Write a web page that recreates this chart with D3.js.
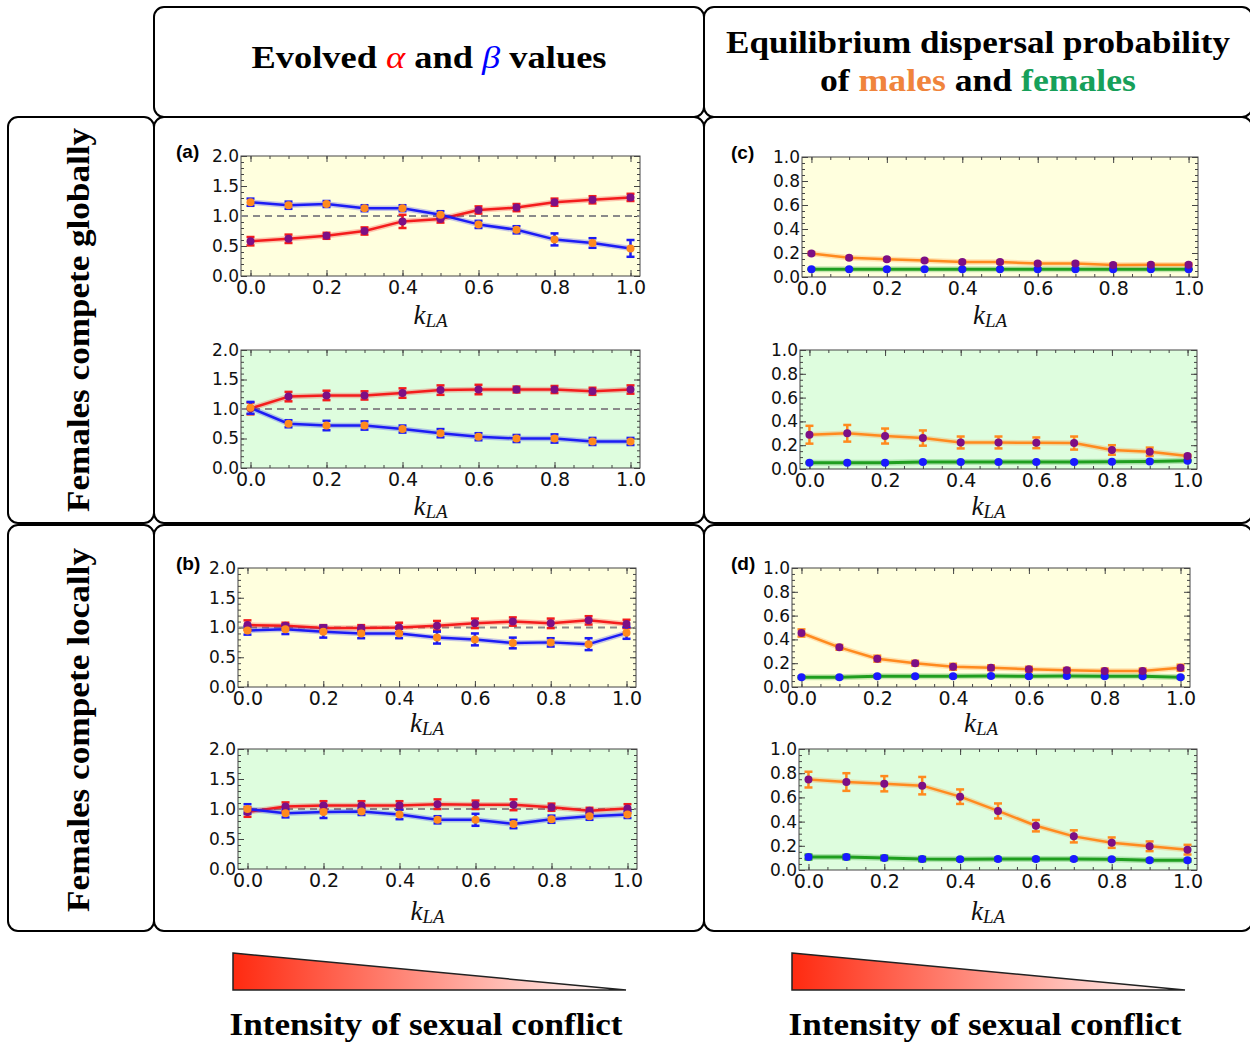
<!DOCTYPE html>
<html>
<head>
<meta charset="utf-8">
<script src="https://cdn.jsdelivr.net/npm/d3@7"></script>
<style>
  body { margin: 0; background: #fff; }
  svg { display: block; }
  .tick text { font-family: "DejaVu Sans", sans-serif; fill: #111; }
  .tick line { stroke: #444; }
</style>
</head>
<body>
<svg id="fig" width="1250" height="1044"></svg>
<script>
// x values (k_LA) and tick labels
var kLA = [0, 0.1, 0.2, 0.3, 0.4, 0.5, 0.6, 0.7, 0.8, 0.9, 1.0];
var xTicks = [0, 0.2, 0.4, 0.6, 0.8, 1.0];
var yTicksAlphaBeta = [0, 0.5, 1.0, 1.5, 2.0];
var yTicksDispersal = [0, 0.2, 0.4, 0.6, 0.8, 1.0];

// (a) females compete globally - evolved alpha / beta
var alphaA1 = [0.58, 0.62, 0.67, 0.75, 0.91, 0.95, 1.10, 1.14, 1.23, 1.27, 1.31];
var alphaA1Err = [0.07, 0.07, 0.05, 0.06, 0.11, 0.06, 0.06, 0.06, 0.06, 0.06, 0.06];
var betaA1 = [1.23, 1.18, 1.20, 1.13, 1.13, 1.02, 0.86, 0.77, 0.61, 0.55, 0.46];
var betaA1Err = [0.06, 0.06, 0.05, 0.05, 0.05, 0.06, 0.06, 0.06, 0.10, 0.08, 0.14];
var alphaA2 = [1.01, 1.21, 1.23, 1.23, 1.27, 1.32, 1.33, 1.33, 1.33, 1.30, 1.33];
var alphaA2Err = [0.10, 0.08, 0.08, 0.07, 0.08, 0.08, 0.08, 0.05, 0.06, 0.06, 0.07];
var betaA2 = [1.02, 0.75, 0.72, 0.72, 0.66, 0.59, 0.53, 0.50, 0.50, 0.45, 0.45];
var betaA2Err = [0.10, 0.06, 0.08, 0.07, 0.06, 0.07, 0.06, 0.06, 0.07, 0.06, 0.06];

// (b) females compete locally - evolved alpha / beta
var alphaB1 = [1.04, 1.03, 0.99, 0.99, 1.00, 1.03, 1.07, 1.10, 1.07, 1.12, 1.06];
var alphaB1Err = [0.08, 0.05, 0.05, 0.05, 0.08, 0.08, 0.08, 0.07, 0.08, 0.07, 0.07];
var betaB1 = [0.95, 0.97, 0.93, 0.90, 0.90, 0.83, 0.80, 0.74, 0.75, 0.72, 0.91];
var betaB1Err = [0.07, 0.08, 0.10, 0.08, 0.08, 0.10, 0.10, 0.09, 0.07, 0.10, 0.10];
var alphaB2 = [0.95, 1.04, 1.06, 1.06, 1.06, 1.08, 1.07, 1.07, 1.03, 0.97, 1.01];
var alphaB2Err = [0.08, 0.07, 0.07, 0.07, 0.07, 0.08, 0.07, 0.09, 0.06, 0.05, 0.07];
var betaB2 = [1.00, 0.93, 0.95, 0.96, 0.91, 0.82, 0.82, 0.75, 0.83, 0.88, 0.91];
var betaB2Err = [0.08, 0.07, 0.10, 0.06, 0.08, 0.06, 0.10, 0.07, 0.06, 0.06, 0.06];

// (c) females compete globally - dispersal of males / females
var maleC1 = [0.196, 0.160, 0.148, 0.137, 0.125, 0.124, 0.113, 0.112, 0.101, 0.103, 0.103];
var maleC1Err = [0.012, 0.01, 0.01, 0.01, 0.01, 0.01, 0.01, 0.01, 0.01, 0.01, 0.01];
var femaleC1 = [0.065, 0.065, 0.065, 0.065, 0.065, 0.065, 0.065, 0.065, 0.065, 0.065, 0.065];
var femaleC1Err = [0.005, 0.005, 0.005, 0.005, 0.005, 0.005, 0.005, 0.005, 0.005, 0.005, 0.005];
var maleC2 = [0.288, 0.300, 0.277, 0.260, 0.223, 0.223, 0.220, 0.218, 0.160, 0.145, 0.109];
var maleC2Err = [0.075, 0.07, 0.063, 0.064, 0.05, 0.05, 0.045, 0.055, 0.04, 0.035, 0.01];
var femaleC2 = [0.053, 0.053, 0.053, 0.059, 0.059, 0.059, 0.059, 0.059, 0.060, 0.064, 0.070];
var femaleC2Err = [0.006, 0.006, 0.006, 0.006, 0.006, 0.006, 0.006, 0.006, 0.006, 0.006, 0.006];

// (d) females compete locally - dispersal of males / females
var maleD1 = [0.454, 0.333, 0.238, 0.200, 0.170, 0.162, 0.150, 0.140, 0.135, 0.135, 0.162];
var maleD1Err = [0.03, 0.02, 0.025, 0.02, 0.025, 0.02, 0.02, 0.02, 0.02, 0.02, 0.025];
var femaleD1 = [0.081, 0.081, 0.090, 0.090, 0.090, 0.092, 0.090, 0.092, 0.090, 0.090, 0.081];
var femaleD1Err = [0.008, 0.008, 0.008, 0.008, 0.008, 0.008, 0.008, 0.008, 0.008, 0.008, 0.008];
var maleD2 = [0.747, 0.727, 0.713, 0.697, 0.606, 0.488, 0.366, 0.278, 0.226, 0.196, 0.168];
var maleD2Err = [0.065, 0.073, 0.063, 0.072, 0.06, 0.062, 0.047, 0.05, 0.043, 0.04, 0.04];
var femaleD2 = [0.107, 0.107, 0.100, 0.090, 0.088, 0.090, 0.090, 0.090, 0.088, 0.080, 0.080];
var femaleD2Err = [0.02, 0.018, 0.018, 0.018, 0.01, 0.01, 0.01, 0.01, 0.01, 0.01, 0.01];

var RED = "#f41c1c", BLUE = "#1c1cf4", PURPLE = "#7d0f85", ORANGE = "#ff8a1e",
    GREEN = "#1f9e1f", DOTBLUE = "#1a1aff";
var YELLOW_BG = "#ffffde", GREEN_BG = "#defdde";

var svg = d3.select("#fig");

// ---- outer frames (rounded cells) ----
var cells = [
  [154, 7, 550, 110], [704, 7, 548, 110],
  [8, 117, 146, 406], [154, 117, 550, 406], [704, 117, 548, 406],
  [8, 525, 146, 406], [154, 525, 550, 406], [704, 525, 548, 406]
];
svg.selectAll("rect.cell").data(cells).enter().append("rect")
    .attr("class", "cell")
    .attr("x", function(d){ return d[0]; })
    .attr("y", function(d){ return d[1]; })
    .attr("width", function(d){ return d[2]; })
    .attr("height", function(d){ return d[3]; })
    .attr("rx", 10)
    .attr("fill", "none")
    .attr("stroke", "#000")
    .attr("stroke-width", 2);

var serif = "'Liberation Serif', 'DejaVu Serif', serif";

// headers
var h1 = svg.append("text")
    .attr("x", 429).attr("y", 68)
    .attr("text-anchor", "middle")
    .attr("font-family", serif).attr("font-weight", "bold").attr("font-size", 31)
    .attr("textLength", 355).attr("lengthAdjust", "spacingAndGlyphs");
h1.append("tspan").text("Evolved ");
h1.append("tspan").attr("fill", "#ff0000").attr("font-style", "italic").attr("font-weight", "normal").text("\u03b1");
h1.append("tspan").text(" and ");
h1.append("tspan").attr("fill", "#0000ff").attr("font-style", "italic").attr("font-weight", "normal").text("\u03b2");
h1.append("tspan").text(" values");

svg.append("text")
    .attr("x", 978).attr("y", 53)
    .attr("text-anchor", "middle")
    .attr("font-family", serif).attr("font-weight", "bold").attr("font-size", 31)
    .attr("textLength", 504).attr("lengthAdjust", "spacingAndGlyphs")
    .text("Equilibrium dispersal probability");
var h3 = svg.append("text")
    .attr("x", 978).attr("y", 91)
    .attr("text-anchor", "middle")
    .attr("font-family", serif).attr("font-weight", "bold").attr("font-size", 31)
    .attr("textLength", 316).attr("lengthAdjust", "spacingAndGlyphs");
h3.append("tspan").text("of ");
h3.append("tspan").attr("fill", "#f0843c").text("males");
h3.append("tspan").text(" and ");
h3.append("tspan").attr("fill", "#17a05a").text("females");

// row labels
[["Females compete globally", 320, 384], ["Females compete locally", 730, 364]].forEach(function(r){
  svg.append("text")
      .attr("transform", "translate(89," + r[1] + ") rotate(-90)")
      .attr("text-anchor", "middle")
      .attr("font-family", serif).attr("font-weight", "bold").attr("font-size", 31)
      .attr("textLength", r[2]).attr("lengthAdjust", "spacingAndGlyphs")
      .text(r[0]);
});

// ---- panels ----
function alphaBeta(a, aErr, b, bErr) {
  return [
    { vals: a, err: aErr, line: RED, dot: PURPLE, w: 2.5 },
    { vals: b, err: bErr, line: BLUE, dot: ORANGE, w: 2.5 }
  ];
}
function dispersal(m, mErr, f, fErr) {
  return [
    { vals: f, err: fErr, line: GREEN, dot: DOTBLUE, w: 3 },
    { vals: m, err: mErr, line: ORANGE, dot: PURPLE, w: 2.5 }
  ];
}

var panels = [
  { box: [241, 640, 156, 276], lab: "(a)", bg: YELLOW_BG, ab: true, series: alphaBeta(alphaA1, alphaA1Err, betaA1, betaA1Err), klab: 324 },
  { box: [241, 640, 350, 468], bg: GREEN_BG, ab: true, series: alphaBeta(alphaA2, alphaA2Err, betaA2, betaA2Err), klab: 515 },
  { box: [238, 636, 568, 687], lab: "(b)", bg: YELLOW_BG, ab: true, series: alphaBeta(alphaB1, alphaB1Err, betaB1, betaB1Err), klab: 732 },
  { box: [238, 637, 749, 869], bg: GREEN_BG, ab: true, series: alphaBeta(alphaB2, alphaB2Err, betaB2, betaB2Err), klab: 920 },
  { box: [802, 1198, 157, 277], lab: "(c)", bg: YELLOW_BG, ab: false, series: dispersal(maleC1, maleC1Err, femaleC1, femaleC1Err), klab: 324 },
  { box: [800, 1197, 350, 469], bg: GREEN_BG, ab: false, series: dispersal(maleC2, maleC2Err, femaleC2, femaleC2Err), klab: 515 },
  { box: [792, 1190, 568, 687], lab: "(d)", bg: YELLOW_BG, ab: false, series: dispersal(maleD1, maleD1Err, femaleD1, femaleD1Err), klab: 732 },
  { box: [799, 1197, 749, 870], bg: GREEN_BG, ab: false, series: dispersal(maleD2, maleD2Err, femaleD2, femaleD2Err), klab: 920 }
];

panels.forEach(function(p){
  var x0 = p.box[0], x1 = p.box[1], y0 = p.box[2], y1 = p.box[3];
  var ymax = p.ab ? 2 : 1;
  var x = d3.scaleLinear().domain([-0.025, 1.025]).range([x0, x1]);
  var y = d3.scaleLinear().domain([0, ymax]).range([y1, y0]);
  var g = svg.append("g");

  g.append("rect")
      .attr("x", x0).attr("y", y0)
      .attr("width", x1 - x0).attr("height", y1 - y0)
      .attr("fill", p.bg);

  // minor + major ticks on all four sides
  var xMinor = d3.range(0, 1.0001, 0.05);
  var yMinor = p.ab ? d3.range(0, 2.0001, 0.1) : d3.range(0, 1.0001, 0.05);
  var yMajor = p.ab ? yTicksAlphaBeta : yTicksDispersal;

  function styleAxis(sel) {
    sel.select(".domain").remove();
    sel.selectAll(".tick line").attr("stroke", "#444").attr("stroke-width", 1);
  }
  g.append("g").attr("transform", "translate(0," + y1 + ")")
      .call(d3.axisBottom(x).tickValues(xMinor).tickSize(-3).tickFormat(""))
      .call(styleAxis);
  g.append("g").attr("transform", "translate(0," + y0 + ")")
      .call(d3.axisTop(x).tickValues(xMinor).tickSize(-3).tickFormat(""))
      .call(styleAxis);
  g.append("g").attr("transform", "translate(" + x0 + ",0)")
      .call(d3.axisLeft(y).tickValues(yMinor).tickSize(-3).tickFormat(""))
      .call(styleAxis);
  g.append("g").attr("transform", "translate(" + x1 + ",0)")
      .call(d3.axisRight(y).tickValues(yMinor).tickSize(-3).tickFormat(""))
      .call(styleAxis);
  g.append("g").attr("transform", "translate(0," + y0 + ")")
      .call(d3.axisTop(x).tickValues(xTicks).tickSize(-6).tickFormat(""))
      .call(styleAxis);
  g.append("g").attr("transform", "translate(" + x1 + ",0)")
      .call(d3.axisRight(y).tickValues(yMajor).tickSize(-6).tickFormat(""))
      .call(styleAxis);

  var xa = g.append("g").attr("transform", "translate(0," + y1 + ")")
      .call(d3.axisBottom(x).tickValues(xTicks).tickSize(-6).tickPadding(4).tickFormat(d3.format(".1f")))
      .call(styleAxis);
  xa.selectAll(".tick text").attr("font-size", 19).attr("font-family", "'DejaVu Sans', sans-serif").attr("fill", "#111");

  var ya = g.append("g").attr("transform", "translate(" + x0 + ",0)")
      .call(d3.axisLeft(y).tickValues(yMajor).tickSize(-6).tickPadding(2).tickFormat(d3.format(".1f")))
      .call(styleAxis);
  ya.selectAll(".tick text").attr("font-size", 17).attr("font-family", "'DejaVu Sans', sans-serif").attr("fill", "#111");

  // frame
  g.append("rect")
      .attr("x", x0).attr("y", y0)
      .attr("width", x1 - x0).attr("height", y1 - y0)
      .attr("fill", "none").attr("stroke", "#444").attr("stroke-width", 1);

  // dashed reference at 1
  if (p.ab) {
    g.append("line")
        .attr("x1", x0).attr("x2", x1)
        .attr("y1", y(1)).attr("y2", y(1))
        .attr("stroke", "#8a8a8a").attr("stroke-width", 2)
        .attr("stroke-dasharray", "7,5");
  }

  var line = d3.line()
      .x(function(d, i){ return x(kLA[i]); })
      .y(function(d){ return y(d); });

  p.series.forEach(function(s){
    g.append("path").datum(s.vals)
        .attr("fill", "none").attr("stroke", s.line).attr("stroke-opacity", 0.25)
        .attr("stroke-width", s.w + 3).attr("stroke-linejoin", "round")
        .attr("d", line);
    g.append("path").datum(s.vals)
        .attr("fill", "none").attr("stroke", s.line)
        .attr("stroke-width", s.w).attr("stroke-linejoin", "round")
        .attr("d", line);
  });

  p.series.forEach(function(s){
    var eb = g.append("g").attr("stroke", s.line).attr("stroke-width", 2.5);
    s.vals.forEach(function(v, i){
      var cx = x(kLA[i]), lo = y(v - s.err[i]), hi = y(v + s.err[i]);
      eb.append("line").attr("x1", cx).attr("x2", cx).attr("y1", lo).attr("y2", hi);
      eb.append("line").attr("x1", cx - 4).attr("x2", cx + 4).attr("y1", lo).attr("y2", lo);
      eb.append("line").attr("x1", cx - 4).attr("x2", cx + 4).attr("y1", hi).attr("y2", hi);
    });
  });

  p.series.forEach(function(s){
    g.selectAll(null).data(s.vals).enter().append("circle")
        .attr("cx", function(d, i){ return x(kLA[i]); })
        .attr("cy", function(d){ return y(d); })
        .attr("r", 4)
        .attr("fill", s.dot);
  });

  // x label k_LA
  var kt = g.append("text")
      .attr("x", (x0 + x1) / 2 - 10).attr("y", p.klab)
      .attr("text-anchor", "middle")
      .attr("font-family", serif).attr("font-style", "italic").attr("fill", "#111");
  kt.append("tspan").attr("font-size", 27).text("k");
  kt.append("tspan").attr("font-size", 19).attr("dy", 3).text("LA");

  if (p.lab) {
    g.append("text")
        .attr("x", p.ab ? 176 : 731).attr("y", y0 + 2)
        .attr("font-family", "'Liberation Sans', Arial, sans-serif")
        .attr("font-weight", "bold").attr("font-size", 19)
        .text(p.lab);
  }
});

// ---- bottom gradient triangles ----
var defs = svg.append("defs");
var grad = defs.append("linearGradient").attr("id", "conflict").attr("x1", "0").attr("x2", "1").attr("y1", "0").attr("y2", "0");
grad.append("stop").attr("offset", "0").attr("stop-color", "#ff2a10");
grad.append("stop").attr("offset", "1").attr("stop-color", "#ffffff");

[[233, 626, 426], [792, 1185, 985]].forEach(function(t){
  svg.append("path")
      .attr("d", "M" + t[0] + ",953 L" + t[1] + ",990 L" + t[0] + ",990 Z")
      .attr("fill", "url(#conflict)")
      .attr("stroke", "#222").attr("stroke-width", 1.5).attr("stroke-linejoin", "miter");
  svg.append("text")
      .attr("x", t[2]).attr("y", 1035)
      .attr("text-anchor", "middle")
      .attr("font-family", serif).attr("font-weight", "bold").attr("font-size", 31)
      .attr("textLength", 393).attr("lengthAdjust", "spacingAndGlyphs")
      .text("Intensity of sexual conflict");
});
</script>
</body>
</html>
